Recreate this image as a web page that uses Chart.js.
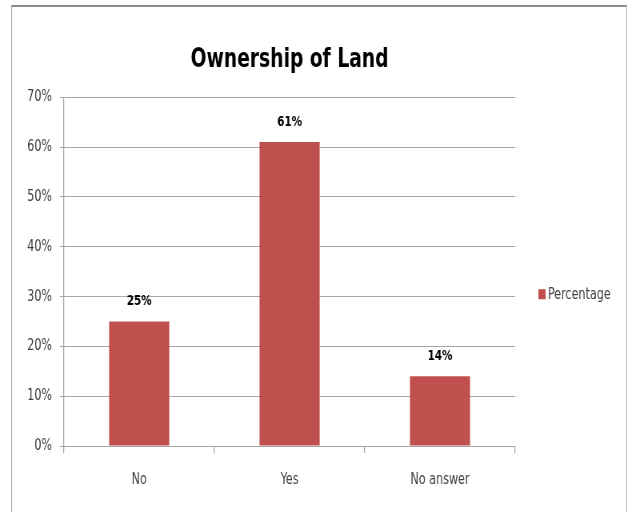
<!DOCTYPE html>
<html>
<head>
<meta charset="utf-8">
<title>Ownership of Land</title>
<script src="https://cdn.jsdelivr.net/npm/chart.js@4.4.1/dist/chart.umd.min.js"></script>
<style>
  html, body { margin: 0; padding: 0; background: #fff; }
  #wrap { position: relative; width: 627px; height: 512px; overflow: hidden; }
  #frame {
    position: absolute; left: 11px; top: 5px; width: 614px; height: 530px;
    border-top: 2px solid #8a8a8a; border-left: 1px solid #b4b4b4; border-right: 1px solid #c8c8c8;
    pointer-events: none;
  }
  /* the chart is laid out on a wider canvas and squeezed to 627px, which gives the narrow lettering */
  #chart { position: absolute; left: 0; top: 0; transform: scaleX(0.8); transform-origin: 0 0; }
</style>
</head>
<body>
<div id="wrap">
  <canvas id="chart" width="784" height="512"></canvas>
  <div id="frame"></div>
</div>
<script>
// chart data
const categories = ['No', 'Yes', 'No answer'];
const percentages = [25, 61, 14];
const seriesName = 'Percentage';
const yMax = 70;
const yStep = 10;

const barColor = '#C0504D';
const textColor = '#404040';
const gridColor = '#a6a6a6';
const fontFamily = '"DejaVu Sans Condensed", "DejaVu Sans", sans-serif';

// value labels above each bar
const barValueLabels = {
    id: 'barValueLabels',
    afterDatasetsDraw(chart) {
        const ctx = chart.ctx;
        const meta = chart.getDatasetMeta(0);
        ctx.save();
        ctx.font = 'bold 14.5px ' + fontFamily;
        ctx.fillStyle = '#000';
        ctx.textAlign = 'center';
        ctx.textBaseline = 'alphabetic';
        meta.data.forEach(function(bar, i) {
            const value = chart.data.datasets[0].data[i];
            ctx.fillText(value + '%', bar.x, bar.y - 16);
        });
        ctx.restore();
    }
};

// single-entry legend to the right of the plot
const sideLegend = {
    id: 'sideLegend',
    afterDraw(chart) {
        const ctx = chart.ctx;
        const area = chart.chartArea;
        const ds = chart.data.datasets[0];
        const x = area.right + 29;
        const y = area.top + 198;
        ctx.save();
        ctx.fillStyle = ds.backgroundColor;
        ctx.fillRect(x, y - 6, 9, 10);
        ctx.font = '15.5px ' + fontFamily;
        ctx.fillStyle = textColor;
        ctx.textAlign = 'left';
        ctx.textBaseline = 'middle';
        ctx.fillText(ds.label, x + 12, y);
        ctx.restore();
    }
};

const ctx = document.getElementById('chart').getContext('2d');
const chart = new Chart(ctx, {
    type: 'bar',
    data: {
        labels: categories,
        datasets: [{
            label: seriesName,
            data: percentages,
            backgroundColor: barColor,
            borderWidth: 0,
            categoryPercentage: 0.8,
            barPercentage: 0.5
        }]
    },
    options: {
        responsive: false,
        animation: false,
        layout: {
            padding: { left: 0, right: 140, top: 0, bottom: 0 }
        },
        plugins: {
            legend: { display: false },
            tooltip: { enabled: false },
            title: {
                display: true,
                text: 'Ownership of Land',
                fullSize: false,
                color: '#000',
                font: { family: fontFamily, size: 26, weight: 'bold' },
                padding: { top: 45, bottom: 21 }
            }
        },
        scales: {
            x: {
                grid: {
                    drawOnChartArea: false,
                    drawTicks: true,
                    tickLength: 7,
                    lineWidth: 1.25,
                    color: gridColor
                },
                border: { color: gridColor, width: 1 },
                ticks: {
                    color: textColor,
                    font: { family: fontFamily, size: 15.5 },
                    padding: 18,
                    maxRotation: 0
                },
                afterFit: function(scale) { scale.height = 66; }
            },
            y: {
                min: 0,
                max: yMax,
                grid: {
                    color: gridColor,
                    tickLength: 5
                },
                border: { color: gridColor, width: 1.25 },
                ticks: {
                    stepSize: yStep,
                    color: textColor,
                    font: { family: fontFamily, size: 15.5 },
                    padding: 10,
                    callback: function(v) { return v + '%'; }
                },
                afterFit: function(scale) { scale.width = 80; }
            }
        }
    },
    plugins: [barValueLabels, sideLegend]
});
</script>
</body>
</html>
